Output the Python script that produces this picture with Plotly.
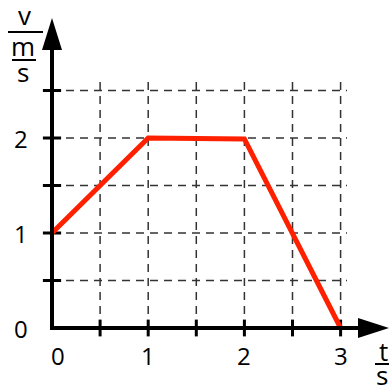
import plotly.graph_objects as go

# ---- data ----
t_values = [0, 1, 2, 3]
v_values = [1.0, 2.0, 1.99, 0.0]
x_tick_vals = [0, 1, 2, 3]
x_tick_text = ["0", "1", "2", "3"]
y_tick_vals = [0, 1, 2]
y_tick_text = ["0", "1", "2"]
x_grid = [0.5, 1.0, 1.5, 2.0, 2.5, 3.0]
y_grid = [0.5, 1.0, 1.5, 2.0, 2.5]
x_minor_ticks = [0.5, 1.0, 1.5, 2.0, 2.5, 3.0]
y_minor_ticks = [0.5, 1.0, 1.5, 2.0, 2.5]

# ---- pixel geometry helpers ----
W, H = 390, 385
X0PX, SX = 52, 96.2   # pixel of x=0, pixels per unit
Y0PX, SY = 328, 95.0  # pixel of y=0, pixels per unit

def dx(px):
    return (px - X0PX) / SX

def dy(py):
    return (Y0PX - py) / SY

grid_top = dy(80)
grid_right = dx(347)

fig = go.Figure()

# dashed grid
dash = "8px,6px"
for gx in x_grid:
    fig.add_trace(go.Scatter(x=[gx, gx], y=[0, grid_top], mode="lines",
                             line=dict(color="#333333", width=1.5, dash=dash),
                             hoverinfo="skip", showlegend=False))
for gy in y_grid:
    fig.add_trace(go.Scatter(x=[0, grid_right], y=[gy, gy], mode="lines",
                             line=dict(color="#333333", width=1.5, dash=dash),
                             hoverinfo="skip", showlegend=False))

shapes = []
# axes
shapes.append(dict(type="line", xref="x", yref="y", x0=0, x1=0, y0=dy(330), y1=dy(48),
                   line=dict(color="black", width=4)))
shapes.append(dict(type="line", xref="x", yref="y", x0=dx(50), x1=dx(360), y0=0, y1=0,
                   line=dict(color="black", width=4)))
# arrow heads
shapes.append(dict(type="path", xref="x", yref="y",
                   path=f"M {dx(42)},{dy(50)} L {dx(62)},{dy(50)} L {dx(52)},{dy(18)} Z",
                   fillcolor="black", line=dict(color="black", width=0)))
shapes.append(dict(type="path", xref="x", yref="y",
                   path=f"M {dx(358)},{dy(318)} L {dx(358)},{dy(338)} L {dx(389)},{dy(328)} Z",
                   fillcolor="black", line=dict(color="black", width=0)))
# fraction bars
shapes.append(dict(type="line", xref="paper", yref="paper", x0=8 / W, x1=43 / W,
                   y0=1 - 32 / H, y1=1 - 32 / H, line=dict(color="black", width=2)))
shapes.append(dict(type="line", xref="paper", yref="paper", x0=12 / W, x1=36 / W,
                   y0=1 - 60 / H, y1=1 - 60 / H, line=dict(color="black", width=2)))
shapes.append(dict(type="line", xref="paper", yref="paper", x0=375 / W, x1=389 / W,
                   y0=1 - 364 / H, y1=1 - 364 / H, line=dict(color="black", width=2)))

# tick marks crossing axes
fig.add_trace(go.Scatter(x=[0] * len(y_minor_ticks), y=y_minor_ticks, mode="markers",
                         marker=dict(symbol="line-ew", size=13, line=dict(color="black", width=3)),
                         hoverinfo="skip", showlegend=False))
fig.add_trace(go.Scatter(x=x_minor_ticks, y=[0] * len(x_minor_ticks), mode="markers",
                         marker=dict(symbol="line-ns", size=12, line=dict(color="black", width=3)),
                         hoverinfo="skip", showlegend=False))

# data line
fig.add_trace(go.Scatter(x=t_values, y=v_values, mode="lines",
                         line=dict(color="#ff2000", width=5),
                         hoverinfo="skip", showlegend=False))

ann = []
font_digits = dict(family="Open Sans", size=24, color="black")
for v, txt in zip(x_tick_vals, x_tick_text):
    ann.append(dict(x=v, y=dy(355), xref="x", yref="y", text=txt, showarrow=False,
                    xanchor="center", yanchor="middle", font=font_digits,
                    xshift=6 if v == 0 else 0))
for v, txt in zip(y_tick_vals, y_tick_text):
    ann.append(dict(x=dx(21), y=v, xref="x", yref="y", text=txt, showarrow=False,
                    xanchor="center", yanchor="middle", font=font_digits))

font_unit = dict(family="Open Sans", size=26, color="black")
for txt, px, py, hh in [("v", 25, 15, 24), ("m", 23, 46, 24), ("s", 23, 72, 22),
                        ("t", 383, 351, 24), ("s", 382, 375, 20)]:
    ann.append(dict(x=px / W, y=1 - py / H, xref="paper", yref="paper", text=txt,
                    showarrow=False, xanchor="center", yanchor="middle", font=font_unit,
                    height=hh, valign="middle"))

fig.update_layout(
    width=W, height=H,
    margin=dict(l=0, r=0, t=0, b=0),
    paper_bgcolor="white", plot_bgcolor="white",
    xaxis=dict(visible=False, range=[dx(0), dx(W)], fixedrange=True),
    yaxis=dict(visible=False, range=[dy(H), dy(0)], fixedrange=True),
    shapes=shapes, annotations=ann,
)

fig.write_html("out.html", config={"displayModeBar": False},
               post_script="document.body.style.margin='0';document.body.style.overflow='hidden';")
